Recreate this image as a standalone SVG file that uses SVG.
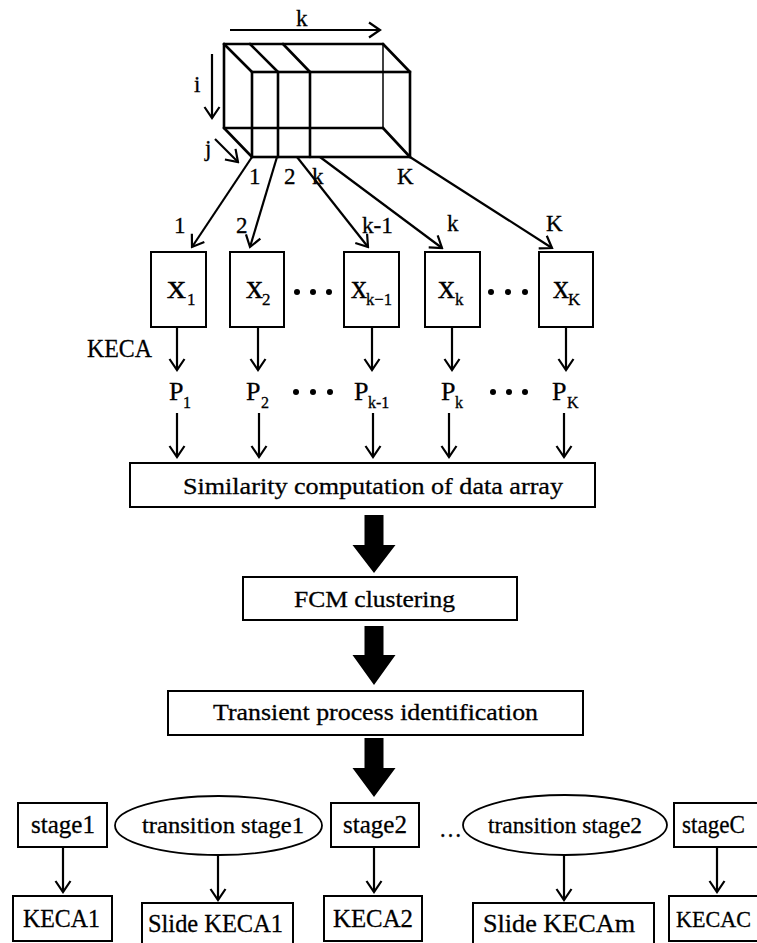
<svg xmlns="http://www.w3.org/2000/svg" width="757" height="943" viewBox="0 0 757 943" font-family="'Liberation Serif', 'Times New Roman', 'DejaVu Serif', serif">
<style>
text{font-family:'Liberation Serif','Times New Roman','DejaVu Serif',serif;fill:#000;stroke:#000;stroke-width:0.3}
.box{fill:#fff;stroke:#000;stroke-width:2}
.ell{fill:#fff;stroke:#000;stroke-width:1.8}
.cube{stroke:#000;stroke-width:2.6;fill:none;stroke-linecap:round}
.thin{stroke:#000;stroke-width:1.5;fill:none}
.arr{stroke:#000;stroke-width:2.2;fill:none;marker-end:url(#ah)}
.big{fill:#000;stroke:none}
.lbl{font-size:23px}
.xs{font-size:33px}
.sub{font-size:17px}
.p{font-size:26px}
.ps{font-size:16px}
.t22{font-size:24px}
.tt{font-size:23px}
.t24{font-size:26px}
</style>
<defs>
<marker id="ah" viewBox="-13 -10 15 20" refX="0" refY="0" markerWidth="15" markerHeight="20" orient="auto" markerUnits="userSpaceOnUse">
<path d="M-11,-7.5 L0,0 L-11,7.5" fill="none" stroke="#000" stroke-width="2.2"/>
</marker>
</defs>

<g id="cube">
<line class="cube" x1="224" y1="44" x2="383" y2="44"/>
<line class="cube" x1="224" y1="44" x2="224" y2="128"/>
<line class="cube" x1="224" y1="128" x2="383" y2="128"/>
<line class="thin" x1="383" y1="44" x2="383" y2="128"/>
<rect class="cube" x="252" y="72" width="158" height="85"/>
<line class="cube" x1="224" y1="44" x2="252" y2="72"/>
<line class="cube" x1="383" y1="44" x2="410" y2="72"/>
<line class="cube" x1="224" y1="128" x2="252" y2="157"/>
<line class="cube" x1="383" y1="128" x2="410" y2="157"/>
<line class="cube" x1="278" y1="72" x2="278" y2="157"/>
<line class="cube" x1="310" y1="72" x2="310" y2="157"/>
<line class="cube" x1="250" y1="44" x2="278" y2="72"/>
<line class="cube" x1="283" y1="44" x2="310" y2="72"/>
<text class="lbl" x="296" y="26" font-size="21">k</text>
<text class="lbl" x="194" y="92">i</text>
<text class="lbl" x="205" y="156">j</text>
<text class="lbl" x="249" y="184">1</text>
<text class="lbl" x="284" y="184">2</text>
<text class="lbl" x="312" y="184">k</text>
<text class="lbl" x="397" y="184">K</text>
</g>

<g id="connectors">
<line class="arr" x1="230" y1="30" x2="380" y2="30"/>
<line class="arr" x1="212" y1="54" x2="212" y2="118"/>
<line class="arr" x1="215" y1="139" x2="238" y2="162"/>
<line class="arr" x1="252" y1="157" x2="192" y2="247"/>
<line class="arr" x1="277" y1="157" x2="250" y2="247"/>
<line class="arr" x1="297" y1="157" x2="368" y2="247"/>
<line class="arr" x1="320" y1="157" x2="442" y2="248"/>
<line class="arr" x1="410" y1="157" x2="552" y2="248"/>
<line class="arr" x1="177" y1="327" x2="177" y2="370"/>
<line class="arr" x1="258" y1="327" x2="258" y2="370"/>
<line class="arr" x1="372" y1="327" x2="372" y2="370"/>
<line class="arr" x1="452" y1="327" x2="452" y2="370"/>
<line class="arr" x1="566" y1="327" x2="566" y2="370"/>
<line class="arr" x1="177" y1="413" x2="177" y2="457"/>
<line class="arr" x1="259" y1="413" x2="259" y2="457"/>
<line class="arr" x1="373" y1="413" x2="373" y2="457"/>
<line class="arr" x1="449" y1="413" x2="449" y2="457"/>
<line class="arr" x1="564" y1="413" x2="564" y2="457"/>
<path class="big" d="M364.5,515 H383.5 V545 H395.5 L374,573 L352.5,545 H364.5 Z"/>
<path class="big" d="M364.5,626 H383.5 V655 H395.5 L374,685 L352.5,655 H364.5 Z"/>
<path class="big" d="M364.5,738 H383.5 V768 H395.5 L374,797 L352.5,768 H364.5 Z"/>
<line class="arr" x1="63" y1="847" x2="63" y2="892"/>
<line class="arr" x1="218" y1="855" x2="218" y2="900"/>
<line class="arr" x1="374" y1="847" x2="374" y2="892"/>
<line class="arr" x1="564" y1="855" x2="564" y2="900"/>
<line class="arr" x1="717" y1="847" x2="717" y2="892"/>
<text class="lbl" x="174" y="233">1</text>
<text class="lbl" x="236" y="233">2</text>
<text class="lbl" x="362" y="233" textLength="31" lengthAdjust="spacingAndGlyphs">k-1</text>
<text class="lbl" x="447" y="231">k</text>
<text class="lbl" x="546" y="231">K</text>
<text class="t24" x="87" y="357" textLength="65" lengthAdjust="spacingAndGlyphs">KECA</text>
</g>

<g id="x1"><rect class="box" x="151" y="252" width="55" height="75"/><text class="xs" x="167" y="298" textLength="19" lengthAdjust="spacingAndGlyphs">x</text><text class="sub" x="187" y="305">1</text></g>
<g id="x2"><rect class="box" x="230" y="252" width="54" height="75"/><text class="xs" x="246" y="298" textLength="17" lengthAdjust="spacingAndGlyphs">x</text><text class="sub" x="262" y="305">2</text></g>
<g id="xk1"><rect class="box" x="344" y="252" width="55" height="75"/><text class="xs" x="351" y="298" textLength="16" lengthAdjust="spacingAndGlyphs">x</text><text class="sub" x="366" y="305" textLength="26" lengthAdjust="spacingAndGlyphs">k−1</text></g>
<g id="xk"><rect class="box" x="425" y="252" width="55" height="75"/><text class="xs" x="438" y="298" textLength="17" lengthAdjust="spacingAndGlyphs">x</text><text class="sub" x="455" y="305">k</text></g>
<g id="xK"><rect class="box" x="539" y="252" width="54" height="75"/><text class="xs" x="553" y="298" textLength="16" lengthAdjust="spacingAndGlyphs">x</text><text class="sub" x="568" y="305">K</text></g>
<g id="dots1"><circle cx="297" cy="292" r="3"/><circle cx="313" cy="292" r="3"/><circle cx="329" cy="292" r="3"/></g>
<g id="dots2"><circle cx="491" cy="292" r="3"/><circle cx="508" cy="292" r="3"/><circle cx="525" cy="292" r="3"/></g>

<g id="p1"><text class="p" x="169" y="400">P</text><text class="ps" x="183" y="408">1</text></g>
<g id="p2"><text class="p" x="246" y="400">P</text><text class="ps" x="261" y="408">2</text></g>
<g id="pk1"><text class="p" x="354" y="400">P</text><text class="ps" x="368" y="408">k-1</text></g>
<g id="pk"><text class="p" x="441" y="400">P</text><text class="ps" x="455" y="408">k</text></g>
<g id="pK"><text class="p" x="552" y="400">P</text><text class="ps" x="567" y="408">K</text></g>
<g id="dots3"><circle cx="313" cy="392" r="3"/><circle cx="330" cy="392" r="3"/><circle cx="296" cy="392" r="3"/></g>
<g id="dots4"><circle cx="493" cy="392" r="3"/><circle cx="509" cy="392" r="3"/><circle cx="525" cy="392" r="3"/></g>

<g id="similarity"><rect class="box" x="130" y="463" width="465" height="44"/><text class="t22" x="183" y="494" textLength="380" lengthAdjust="spacingAndGlyphs">Similarity computation of data array</text></g>
<g id="fcm"><rect class="box" x="243" y="577" width="274" height="43"/><text class="t22" x="294" y="607" textLength="161" lengthAdjust="spacingAndGlyphs">FCM clustering</text></g>
<g id="transient"><rect class="box" x="168" y="691" width="415" height="44"/><text class="t22" x="213" y="720" textLength="325" lengthAdjust="spacingAndGlyphs">Transient process identification</text></g>

<g id="stage1"><rect class="box" x="18" y="803" width="89" height="44"/><text class="t24" x="31" y="833" textLength="64" lengthAdjust="spacingAndGlyphs">stage1</text></g>
<g id="tstage1"><ellipse class="ell" cx="218.5" cy="825.5" rx="103.5" ry="29.5"/><text class="tt" x="142" y="833" textLength="162" lengthAdjust="spacingAndGlyphs">transition stage1</text></g>
<g id="stage2"><rect class="box" x="331" y="803" width="88" height="44"/><text class="t24" x="343" y="833" textLength="64" lengthAdjust="spacingAndGlyphs">stage2</text></g>
<g id="ellipsis"><text class="t24" x="439" y="837" textLength="23" lengthAdjust="spacingAndGlyphs">…</text></g>
<g id="tstage2"><ellipse class="ell" cx="565" cy="825" rx="102" ry="30"/><text class="tt" x="488" y="833" textLength="154" lengthAdjust="spacingAndGlyphs">transition stage2</text></g>
<g id="stageC"><rect class="box" x="674" y="803" width="95" height="44"/><text class="t24" x="682" y="833" textLength="63" lengthAdjust="spacingAndGlyphs">stageC</text></g>

<g id="keca1"><rect class="box" x="13" y="896" width="99" height="45"/><text class="t24" x="23" y="927" textLength="77" lengthAdjust="spacingAndGlyphs">KECA1</text></g>
<g id="slide1"><rect class="box" x="142" y="903" width="151" height="50"/><text class="t24" x="148" y="932" textLength="135" lengthAdjust="spacingAndGlyphs">Slide KECA1</text></g>
<g id="keca2"><rect class="box" x="324" y="896" width="98" height="45"/><text class="t24" x="333" y="927" textLength="80" lengthAdjust="spacingAndGlyphs">KECA2</text></g>
<g id="slidem"><rect class="box" x="473" y="903" width="181" height="50"/><text class="t24" x="483" y="932" textLength="152" lengthAdjust="spacingAndGlyphs">Slide KECAm</text></g>
<g id="kecaC"><rect class="box" x="669" y="896" width="100" height="45"/><text x="676" y="927" font-size="23" textLength="75" lengthAdjust="spacingAndGlyphs">KECAC</text></g>
</svg>
